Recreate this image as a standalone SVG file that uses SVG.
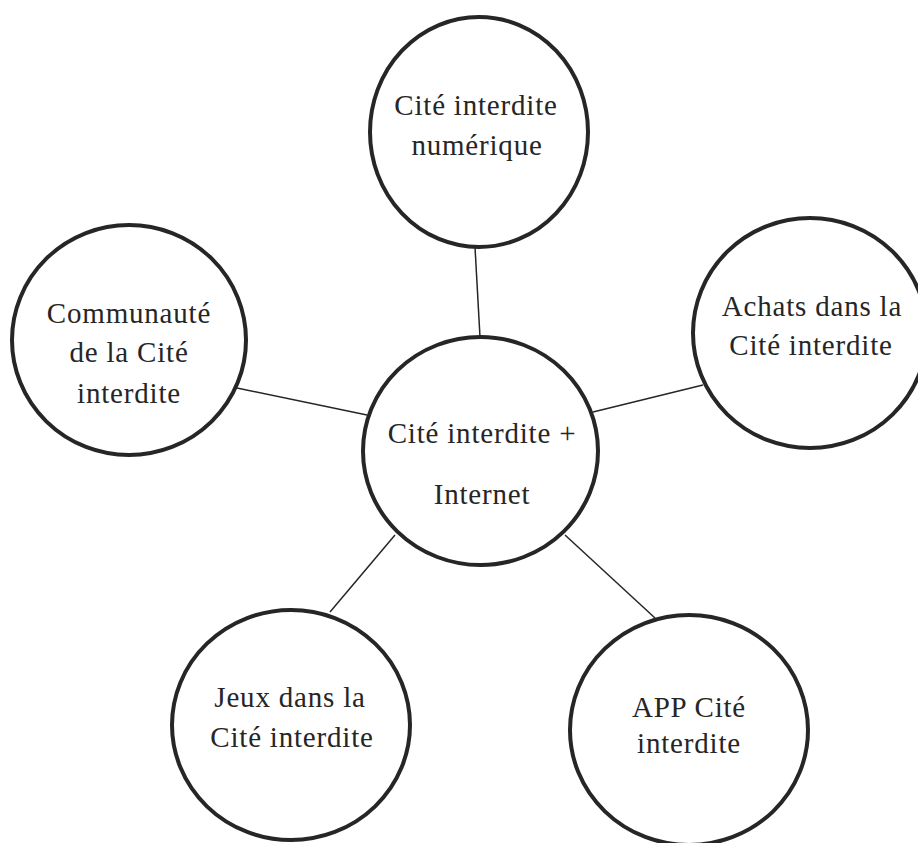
<svg xmlns="http://www.w3.org/2000/svg" width="918" height="843" viewBox="0 0 918 843">
<style>
.node{fill:#fff;stroke:#262626;stroke-width:4}
.edge{stroke:#262626;stroke-width:1.5;fill:none}
text{font-family:"Liberation Serif","Times New Roman",serif;font-size:29px;fill:#262626;text-anchor:middle;letter-spacing:0.8px}
</style>
<rect width="918" height="843" fill="#fff"/>
<g id="connectors">
<line class="edge" x1="475" y1="247" x2="480" y2="337"/>
<line class="edge" x1="237" y1="388" x2="367" y2="415"/>
<line class="edge" x1="593" y1="412" x2="703" y2="385"/>
<line class="edge" x1="395" y1="535" x2="330" y2="612"/>
<line class="edge" x1="565" y1="535" x2="655" y2="618"/>
</g>
<g id="n-top">
<ellipse class="node" cx="479" cy="132" rx="109" ry="115"/>
<text x="476" y="115">Cité interdite</text>
<text x="477" y="155">numérique</text>
</g>
<g id="n-left">
<ellipse class="node" cx="129" cy="340" rx="117" ry="115"/>
<text x="129" y="323">Communauté</text>
<text x="129" y="362">de la Cité</text>
<text x="129" y="403">interdite</text>
</g>
<g id="n-right">
<ellipse class="node" cx="810" cy="333" rx="117" ry="115"/>
<text x="812" y="316">Achats dans la</text>
<text x="811" y="355">Cité interdite</text>
</g>
<g id="n-center">
<ellipse class="node" cx="480.5" cy="451" rx="117.5" ry="114"/>
<text x="482" y="443">Cité interdite +</text>
<text x="482" y="504">Internet</text>
</g>
<g id="n-bottom-left">
<ellipse class="node" cx="291" cy="725" rx="119" ry="115"/>
<text x="290" y="707">Jeux dans la</text>
<text x="292" y="747">Cité interdite</text>
</g>
<g id="n-bottom-right">
<ellipse class="node" cx="689" cy="730" rx="119" ry="115"/>
<text x="689" y="717">APP Cité</text>
<text x="689" y="753">interdite</text>
</g>
</svg>
